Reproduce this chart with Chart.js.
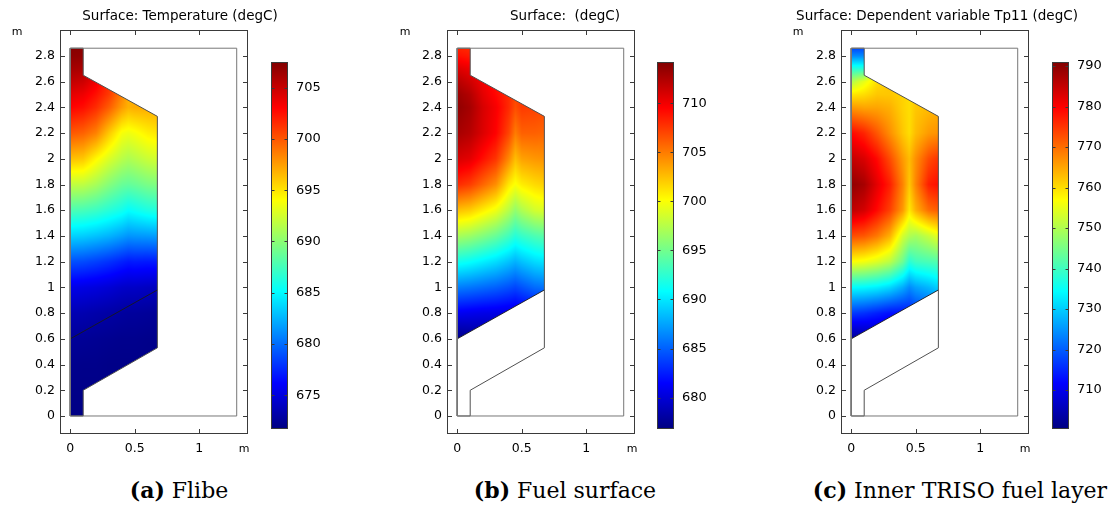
<!DOCTYPE html>
<html>
<head>
<meta charset="utf-8">
<script src="https://cdn.jsdelivr.net/npm/chart.js@4"></script>
<style>
  html, body { margin:0; padding:0; background:#fff; }
  #wrap { position:relative; width:1117px; height:506px; overflow:hidden; font-family:'DejaVu Sans', sans-serif; color:#000; }
  canvas { position:absolute; top:0; }
  .title { position:absolute; top:7px; font-size:13.5px; line-height:17px; white-space:nowrap; transform:translateX(-50%); }
  .unit { position:absolute; font-size:11px; line-height:13px; white-space:nowrap; transform:translateX(-50%); }
  .cap { position:absolute; top:477px; font-family:'DejaVu Serif', serif; font-size:22px; line-height:26px; white-space:nowrap; transform:translateX(-50%); }
  .cap b { font-weight:bold; }
</style>
</head>
<body>
<div id="wrap">
  <canvas id="mainA" width="260" height="470" style="left:0px"></canvas>
  <canvas id="cbA" width="60" height="470" style="left:271px"></canvas>
  <canvas id="mainB" width="260" height="470" style="left:387px"></canvas>
  <canvas id="cbB" width="60" height="470" style="left:657px"></canvas>
  <canvas id="mainC" width="260" height="470" style="left:781px"></canvas>
  <canvas id="cbC" width="60" height="470" style="left:1052px"></canvas>

  <div class="title" style="left:180px">Surface: Temperature (degC)</div>
  <div class="title" style="left:565px">Surface:&nbsp; (degC)</div>
  <div class="title" style="left:937px">Surface: Dependent variable Tp11 (degC)</div>

  <div class="unit" style="left:17px;top:25px">m</div>
  <div class="unit" style="left:405px;top:25px">m</div>
  <div class="unit" style="left:798px;top:25px">m</div>
  <div class="unit" style="left:244px;top:442px">m</div>
  <div class="unit" style="left:632px;top:442px">m</div>
  <div class="unit" style="left:1025px;top:442px">m</div>

  <div class="cap" style="left:179px"><b>(a)</b> Flibe</div>
  <div class="cap" style="left:565px"><b>(b)</b> Fuel surface</div>
  <div class="cap" style="left:960px"><b>(c)</b> Inner TRISO fuel layer</div>
</div>
<script>
// ---------------- DATA ----------------
// axis ticks
const xTicks = [0, 0.5, 1];
const xTickLabels = ['0', '0.5', '1'];
const yTicks = [0, 0.2, 0.4, 0.6, 0.8, 1, 1.2, 1.4, 1.6, 1.8, 2, 2.2, 2.4, 2.6, 2.8];
const yTickLabels = ['0','0.2','0.4','0.6','0.8','1','1.2','1.4','1.6','1.8','2','2.2','2.4','2.6','2.8'];

// colour-bar ticks and ranges (degC)
const cbTicksA = [675, 680, 685, 690, 695, 700, 705];
const cbTicksB = [680, 685, 690, 695, 700, 705, 710];
const cbTicksC = [710, 720, 730, 740, 750, 760, 770, 780, 790];
const rangeA = [671.7, 707.5];
const rangeB = [676.8, 714.2];
const rangeC = [700.4, 791.0];

// geometry (m)
const outerRect = [[0,0],[1.29,0],[1.29,2.86],[0,2.86],[0,0]];
const flibeDomain = [[0,0],[0.1,0],[0.1,0.2],[0.675,0.53],[0.675,2.33],[0.1,2.65],[0.1,2.86],[0,2.86],[0,0]];
const fuelDomain = [[0,0.6],[0.675,0.98],[0.675,2.33],[0.1,2.65],[0.1,2.86],[0,2.86],[0,0.6]];
const fuelBottom = [[0,0.6],[0.675,0.98]];

// sample grid nodes (m)
const xNodes = [0, 0.1, 0.2, 0.3, 0.4, 0.45, 0.5, 0.6, 0.7];
const yNodesFlibe = [0, 0.2, 0.4, 0.6, 0.8, 1.0, 1.2, 1.4, 1.6, 1.8, 2.0, 2.2, 2.4, 2.5, 2.6, 2.7, 2.8, 2.9];
const yNodesFuel = [0.6, 0.8, 1.0, 1.2, 1.4, 1.6, 1.8, 2.0, 2.2, 2.4, 2.5, 2.6, 2.7, 2.8, 2.9];

// (a) Flibe temperature, rows = yNodesFlibe, columns = xNodes
const flibeTemp = [
  [671.9, 671.9, 671.9, 671.9, 671.9, 671.9, 671.9, 671.9, 671.9],
  [672.0, 672.0, 672.0, 672.0, 672.0, 672.0, 672.0, 672.0, 672.0],
  [672.2, 672.1, 672.1, 672.0, 672.0, 672.0, 672.0, 672.0, 672.0],
  [672.6, 672.5, 672.4, 672.3, 672.2, 672.2, 672.2, 672.1, 672.1],
  [673.5, 673.4, 673.2, 673.0, 672.8, 672.7, 672.7, 672.6, 672.5],
  [675.4, 675.2, 675.0, 674.7, 674.3, 674.2, 674.2, 674.0, 673.9],
  [679.0, 678.8, 678.4, 677.9, 677.3, 677.0, 677.1, 677.0, 677.1],
  [683.6, 683.4, 683.0, 682.5, 681.8, 681.4, 681.5, 681.6, 681.8],
  [687.8, 687.6, 687.2, 686.5, 685.8, 685.2, 685.5, 686.1, 686.4],
  [691.9, 691.8, 691.0, 689.8, 688.8, 688.6, 688.8, 689.4, 689.7],
  [696.3, 696.0, 694.3, 692.8, 691.6, 691.2, 691.5, 692.2, 692.6],
  [700.0, 699.6, 698.5, 696.0, 693.8, 693.5, 693.8, 694.6, 695.0],
  [703.0, 702.6, 701.5, 699.8, 697.6, 696.8, 697.0, 697.0, 697.2],
  [704.0, 703.6, 702.5, 701.0, 698.5, 697.0, 697.0, 697.0, 697.2],
  [705.2, 704.8, 703.5, 701.5, 699.0, 697.0, 697.0, 697.0, 697.2],
  [706.2, 706.0, 704.5, 702.0, 699.5, 697.0, 697.0, 697.0, 697.2],
  [707.0, 706.9, 705.5, 702.5, 700.0, 697.0, 697.0, 697.0, 697.2],
  [707.4, 707.3, 706.0, 703.0, 700.0, 697.0, 697.0, 697.0, 697.2]
];

// (b) Fuel surface temperature, rows = yNodesFuel, columns = xNodes
const fuelSurfTemp = [
  [677.0, 677.3, 677.5, 677.8, 678.0, 678.1, 678.2, 678.3, 678.4],
  [681.0, 680.8, 680.6, 680.5, 680.3, 680.2, 680.5, 681.0, 681.3],
  [686.1, 685.8, 685.4, 685.0, 684.4, 684.0, 684.5, 685.4, 685.8],
  [691.5, 691.0, 690.3, 689.6, 688.6, 688.0, 688.6, 689.5, 690.0],
  [697.0, 696.5, 695.6, 694.6, 693.2, 692.2, 692.8, 693.6, 694.2],
  [702.5, 702.0, 700.8, 699.6, 697.5, 696.2, 697.2, 698.5, 699.0],
  [708.0, 707.3, 705.8, 704.3, 701.0, 700.0, 700.8, 701.5, 702.0],
  [711.0, 710.5, 709.0, 707.6, 704.5, 702.6, 703.6, 704.0, 704.2],
  [712.8, 712.2, 710.8, 709.5, 707.0, 705.0, 706.0, 706.0, 705.8],
  [713.6, 712.8, 711.0, 709.8, 708.0, 706.7, 707.4, 707.2, 706.8],
  [713.2, 712.3, 710.5, 709.3, 708.0, 707.0, 707.5, 707.5, 707.0],
  [712.2, 711.3, 710.0, 709.0, 708.0, 707.0, 707.5, 707.5, 707.0],
  [710.8, 710.2, 709.5, 708.5, 708.0, 707.0, 707.5, 707.5, 707.0],
  [709.0, 708.6, 709.0, 708.0, 708.0, 707.0, 707.5, 707.5, 707.0],
  [707.8, 707.6, 708.5, 708.0, 708.0, 707.0, 707.5, 707.5, 707.0]
];

// (c) Inner TRISO fuel layer temperature Tp11, rows = yNodesFuel, columns = xNodes
const trisoTemp = [
  [702.0, 703.0, 704.0, 705.0, 706.0, 707.0, 708.0, 709.0, 710.0],
  [717.0, 716.0, 714.5, 713.0, 713.0, 714.0, 716.0, 718.0, 720.0],
  [734.5, 734.0, 733.0, 731.0, 727.0, 724.0, 726.0, 728.0, 731.0],
  [757.0, 756.0, 754.0, 751.0, 744.0, 738.0, 740.0, 741.0, 742.0],
  [773.0, 772.0, 769.0, 764.0, 753.0, 750.0, 749.0, 752.0, 756.0],
  [785.5, 783.5, 779.0, 774.0, 766.0, 759.0, 764.0, 770.0, 772.0],
  [789.5, 787.5, 782.0, 777.0, 768.0, 762.0, 768.0, 777.0, 779.0],
  [785.0, 783.0, 779.0, 773.0, 766.0, 763.0, 767.0, 773.0, 776.0],
  [779.0, 776.5, 772.0, 767.0, 762.0, 760.0, 763.0, 766.0, 767.0],
  [766.0, 765.0, 765.0, 764.0, 761.0, 760.0, 762.0, 763.0, 764.0],
  [759.0, 760.0, 762.0, 762.0, 761.0, 760.0, 762.0, 763.0, 764.0],
  [750.0, 755.0, 760.0, 762.0, 761.0, 760.0, 762.0, 763.0, 764.0],
  [738.0, 738.0, 760.0, 762.0, 761.0, 760.0, 762.0, 763.0, 764.0],
  [724.0, 724.0, 760.0, 762.0, 761.0, 760.0, 762.0, 763.0, 764.0],
  [714.0, 714.0, 760.0, 762.0, 761.0, 760.0, 762.0, 763.0, 764.0]
];

// ---------------- RENDERING ----------------
Chart.defaults.font.family = "'DejaVu Sans', sans-serif";
Chart.defaults.color = '#000';

const X_MIN = -0.0798, X_MAX = 1.3775, Y_MIN = -0.14, Y_MAX = 3.0016;

function jet(t) {
  t = Math.max(0, Math.min(1, t));
  const c = v => Math.max(0, Math.min(1, v));
  return [c(1.5 - Math.abs(4*t - 3)), c(1.5 - Math.abs(4*t - 2)), c(1.5 - Math.abs(4*t - 1))];
}
const jetStops = [[0,[0,0,0.5]],[0.125,[0,0,1]],[0.375,[0,1,1]],[0.625,[1,1,0]],[0.875,[1,0,0]],[1,[0.5,0,0]]];

function findIdx(nodes, v) {
  if (v <= nodes[0]) return [0, 0];
  const n = nodes.length;
  if (v >= nodes[n-1]) return [n-2, 1];
  for (let i = 0; i < n-1; i++) {
    if (v <= nodes[i+1]) return [i, (v - nodes[i]) / (nodes[i+1] - nodes[i])];
  }
  return [n-2, 1];
}
function sample(grid, yN, x, y) {
  const [i, fx] = findIdx(xNodes, x);
  const [j, fy] = findIdx(yN, y);
  const a = grid[j][i], b = grid[j][i+1], c = grid[j+1][i], d = grid[j+1][i+1];
  return (a*(1-fx) + b*fx)*(1-fy) + (c*(1-fx) + d*fx)*fy;
}

function fieldPlugin(panel) {
  return {
    id: 'field',
    beforeDatasetsDraw(chart) {
      const ctx = chart.ctx, xs = chart.scales.x, ys = chart.scales.y;
      const pts = panel.domain.map(p => [xs.getPixelForValue(p[0]), ys.getPixelForValue(p[1])]);
      const minX = Math.floor(Math.min(...pts.map(p => p[0]))) - 1;
      const maxX = Math.ceil(Math.max(...pts.map(p => p[0]))) + 1;
      const minY = Math.floor(Math.min(...pts.map(p => p[1]))) - 1;
      const maxY = Math.ceil(Math.max(...pts.map(p => p[1]))) + 1;
      const w = maxX - minX, h = maxY - minY;
      const off = document.createElement('canvas');
      off.width = w; off.height = h;
      const octx = off.getContext('2d');
      const img = octx.createImageData(w, h);
      const [lo, hi] = panel.range;
      for (let j = 0; j < h; j++) {
        const vy = ys.getValueForPixel(minY + j + 0.5);
        for (let i = 0; i < w; i++) {
          const vx = xs.getValueForPixel(minX + i + 0.5);
          const T = sample(panel.grid, panel.yNodes, vx, vy);
          const [r, g, b] = jet((T - lo) / (hi - lo));
          const k = (j*w + i) * 4;
          img.data[k] = Math.round(r*255); img.data[k+1] = Math.round(g*255);
          img.data[k+2] = Math.round(b*255); img.data[k+3] = 255;
        }
      }
      octx.putImageData(img, 0, 0);
      ctx.save();
      ctx.beginPath();
      pts.forEach((p, k) => k ? ctx.lineTo(p[0], p[1]) : ctx.moveTo(p[0], p[1]));
      ctx.closePath();
      ctx.clip();
      ctx.drawImage(off, minX, minY);
      ctx.restore();
    }
  };
}

const framePlugin = {
  id: 'frame',
  afterDraw(chart) {
    const ctx = chart.ctx, ca = chart.chartArea, xs = chart.scales.x, ys = chart.scales.y;
    ctx.save();
    ctx.strokeStyle = '#3a3a3a';
    ctx.lineWidth = 1;
    const L = Math.round(ca.left) + 0.5, R = Math.round(ca.right) - 0.5;
    const T = Math.round(ca.top) + 0.5, B = Math.round(ca.bottom) - 0.5;
    ctx.strokeRect(L, T, R - L, B - T);
    const tl = 4.5;
    ctx.beginPath();
    xTicks.forEach(v => {
      const px = Math.round(xs.getPixelForValue(v)) + 0.5;
      ctx.moveTo(px, T); ctx.lineTo(px, T + tl);
      ctx.moveTo(px, B); ctx.lineTo(px, B - tl);
    });
    yTicks.forEach(v => {
      const py = Math.round(ys.getPixelForValue(v)) + 0.5;
      ctx.moveTo(L, py); ctx.lineTo(L + tl, py);
      ctx.moveTo(R, py); ctx.lineTo(R - tl, py);
    });
    ctx.stroke();
    ctx.restore();
  }
};

const toXY = arr => arr.map(p => ({x: p[0], y: p[1]}));
function lineDs(arr, color, width) {
  return { data: toXY(arr), showLine: true, borderColor: color, borderWidth: width,
           pointRadius: 0, fill: false, tension: 0 };
}

function makeMain(id, panel) {
  new Chart(document.getElementById(id), {
    type: 'scatter',
    data: { datasets: [
      lineDs(outerRect, '#777777', 1),
      lineDs(flibeDomain, '#505050', 1),
      lineDs(fuelBottom, '#1a1a1a', 0.9)
    ]},
    options: {
      responsive: false, animation: false, devicePixelRatio: 1,
      layout: { padding: { top: 30, right: 12, bottom: 6, left: 0 } },
      plugins: { legend: { display: false }, tooltip: { enabled: false } },
      events: [],
      scales: {
        x: {
          type: 'linear', min: X_MIN, max: X_MAX,
          afterBuildTicks: s => { s.ticks = xTicks.map(v => ({ value: v })); },
          afterFit: s => { s.height = 30; },
          ticks: { callback: (v, i) => xTickLabels[i], font: { size: 12.5 }, color: '#000', padding: 7, maxRotation: 0, autoSkip: false },
          grid: { display: false, drawTicks: false },
          border: { display: false }
        },
        y: {
          type: 'linear', min: Y_MIN, max: Y_MAX,
          afterBuildTicks: s => { s.ticks = yTicks.map(v => ({ value: v })); },
          afterFit: s => { s.width = 60; },
          ticks: { callback: (v, i) => yTickLabels[i], font: { size: 12.5 }, color: '#000', padding: 5, autoSkip: false },
          grid: { display: false, drawTicks: false },
          border: { display: false }
        }
      }
    },
    plugins: [fieldPlugin(panel), framePlugin]
  });
}

function makeColorbar(id, range, ticks) {
  const cbPlugin = {
    id: 'cbframe',
    afterDraw(chart) {
      const ctx = chart.ctx, ca = chart.chartArea, ys = chart.scales.y;
      ctx.save();
      ctx.strokeStyle = '#3a3a3a'; ctx.lineWidth = 1;
      const L = Math.round(ca.left) + 0.5, R = Math.round(ca.right) - 0.5;
      const T = Math.round(ca.top) + 0.5, B = Math.round(ca.bottom) - 0.5;
      ctx.strokeRect(L, T, R - L, B - T);
      ctx.beginPath();
      ticks.forEach(v => {
        const py = Math.round(ys.getPixelForValue(v)) + 0.5;
        ctx.moveTo(L, py); ctx.lineTo(L + 3, py);
        ctx.moveTo(R, py); ctx.lineTo(R - 3, py);
      });
      ctx.stroke();
      ctx.restore();
    }
  };
  new Chart(document.getElementById(id), {
    type: 'bar',
    data: { labels: [''], datasets: [{
      data: [[range[0], range[1]]],
      backgroundColor: c => {
        const ca = c.chart.chartArea;
        if (!ca) return '#888';
        const g = c.chart.ctx.createLinearGradient(0, ca.bottom, 0, ca.top);
        jetStops.forEach(s => g.addColorStop(s[0], `rgb(${Math.round(s[1][0]*255)},${Math.round(s[1][1]*255)},${Math.round(s[1][2]*255)})`));
        return g;
      },
      borderWidth: 0, barPercentage: 1, categoryPercentage: 1, borderSkipped: false
    }]},
    options: {
      responsive: false, animation: false, devicePixelRatio: 1, events: [],
      layout: { padding: { top: 62, bottom: 41, left: 0, right: 0 } },
      plugins: { legend: { display: false }, tooltip: { enabled: false } },
      scales: {
        x: { display: false },
        y: {
          position: 'right', min: range[0], max: range[1],
          afterBuildTicks: s => { s.ticks = ticks.map(v => ({ value: v })); },
          afterFit: s => { s.width = 43; },
          ticks: { callback: v => String(v), font: { size: 13 }, color: '#000', padding: 8, autoSkip: false },
          grid: { display: false, drawTicks: false },
          border: { display: false }
        }
      }
    },
    plugins: [cbPlugin]
  });
}

makeMain('mainA', { domain: flibeDomain, grid: flibeTemp, yNodes: yNodesFlibe, range: rangeA });
makeMain('mainB', { domain: fuelDomain, grid: fuelSurfTemp, yNodes: yNodesFuel, range: rangeB });
makeMain('mainC', { domain: fuelDomain, grid: trisoTemp, yNodes: yNodesFuel, range: rangeC });
makeColorbar('cbA', rangeA, cbTicksA);
makeColorbar('cbB', rangeB, cbTicksB);
makeColorbar('cbC', rangeC, cbTicksC);
</script>
</body>
</html>
